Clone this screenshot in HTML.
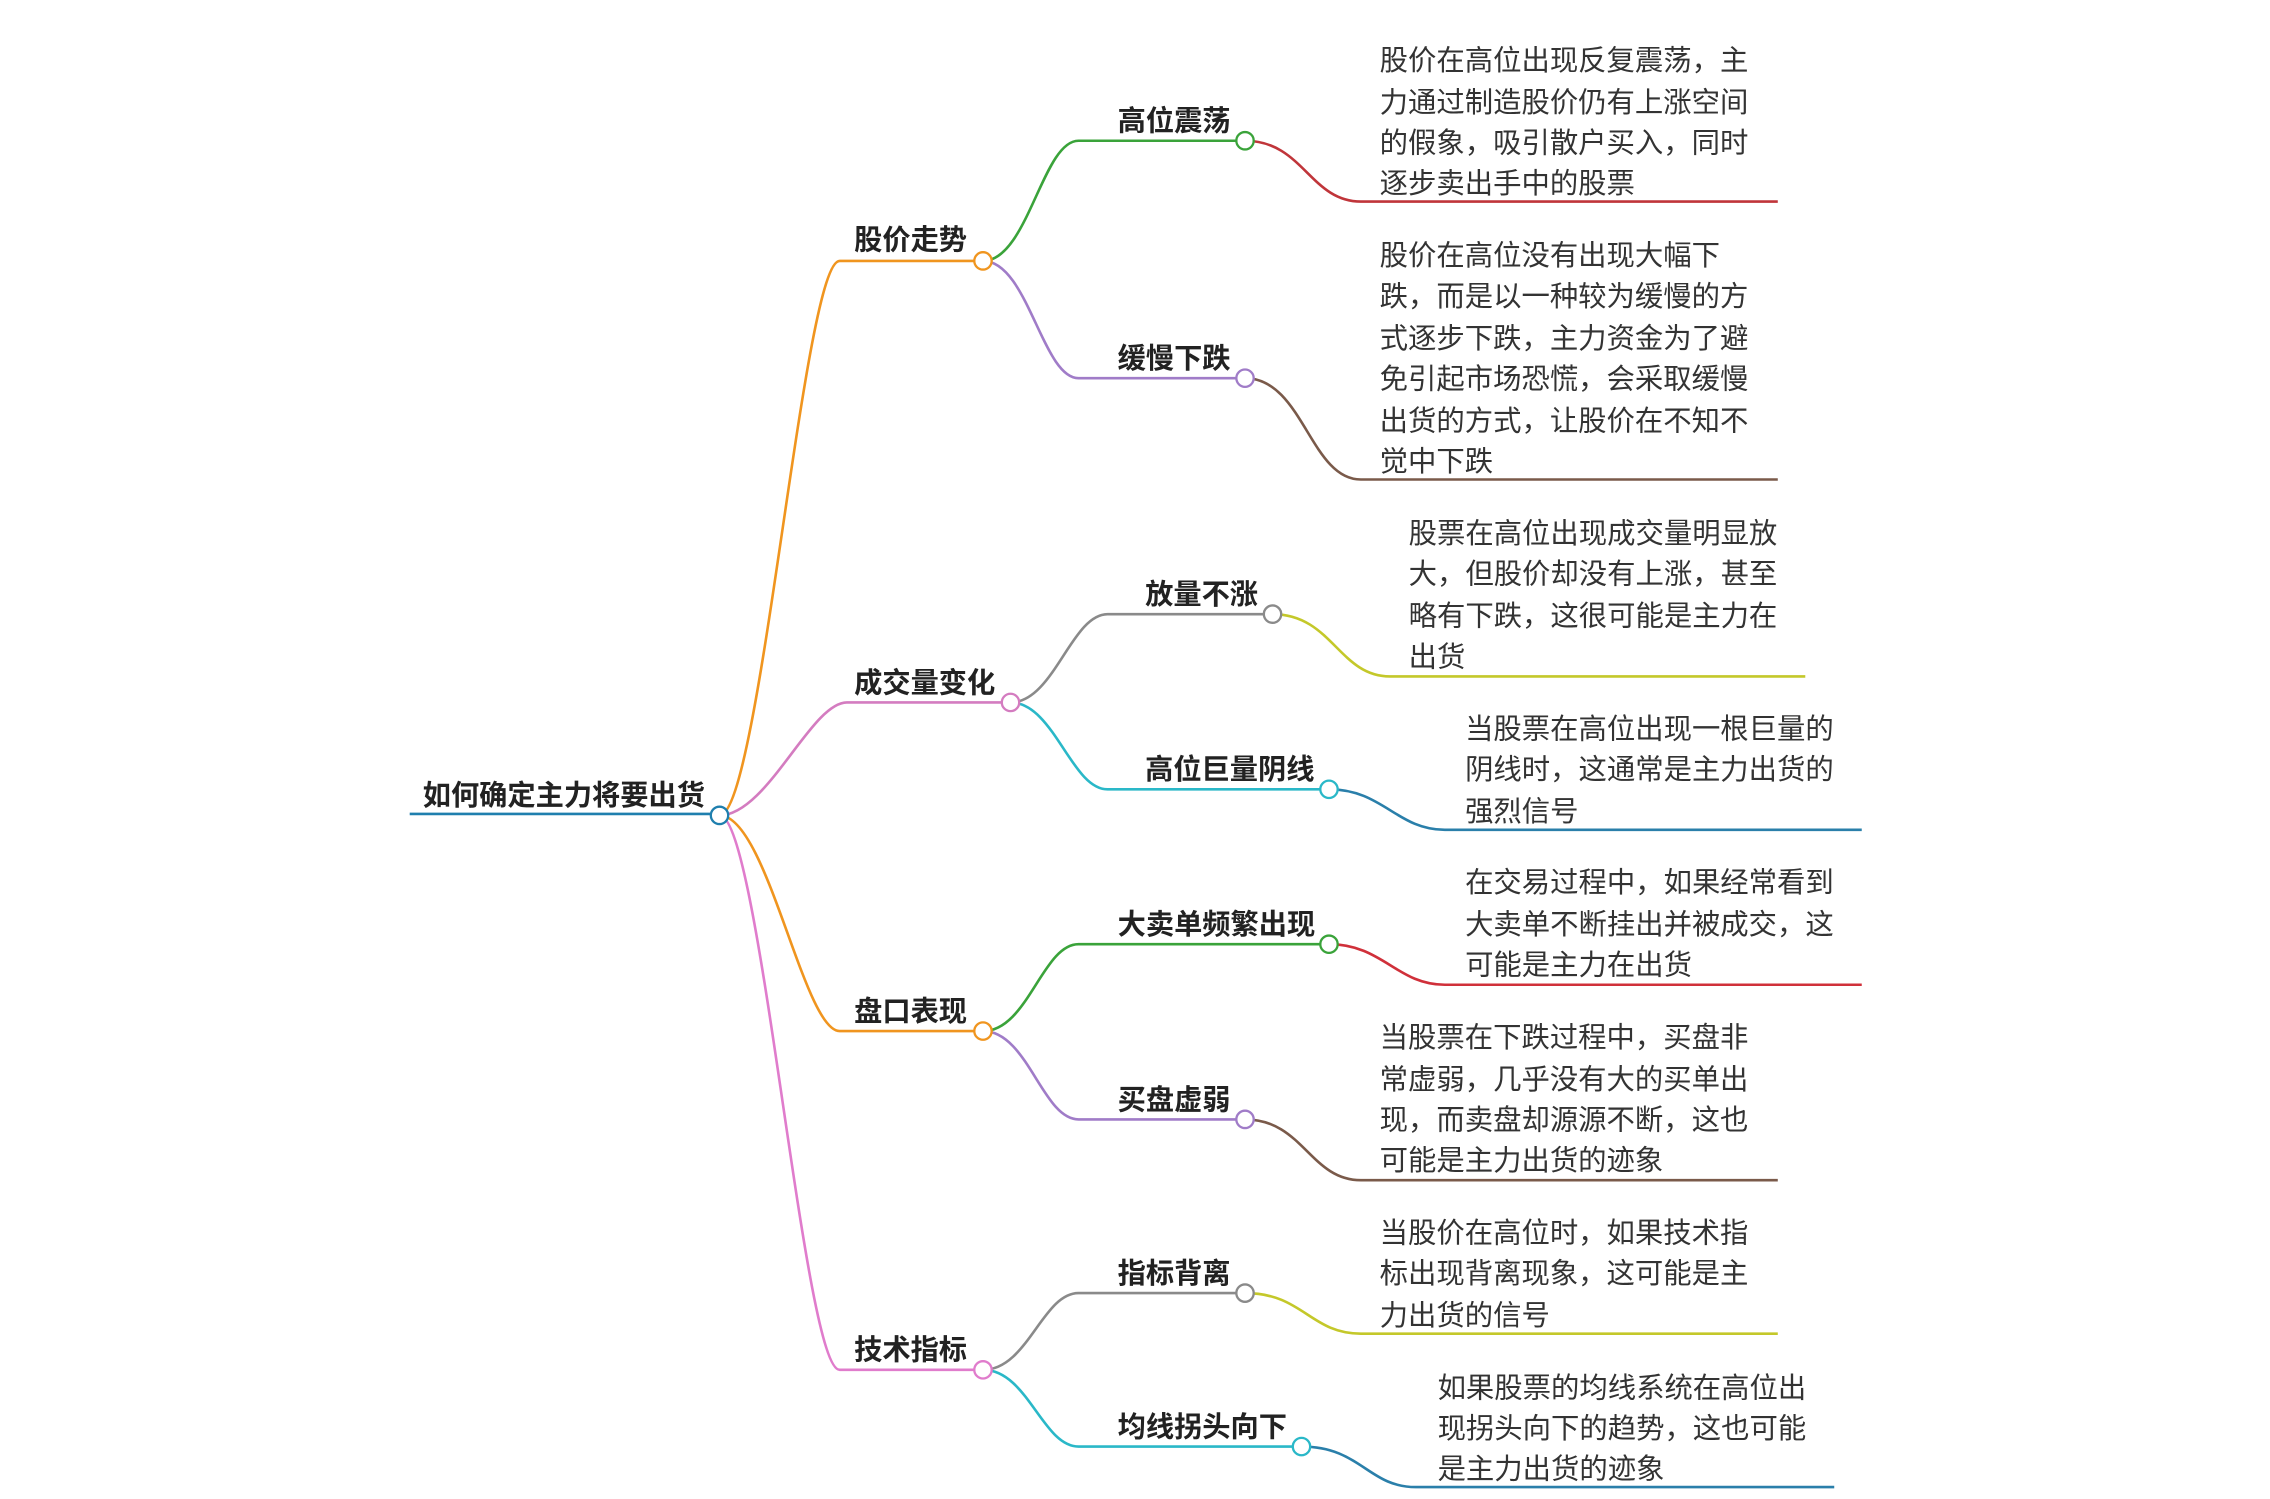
<!DOCTYPE html>
<html><head><meta charset="utf-8"><style>
html,body{margin:0;padding:0;background:#fff;}
svg{display:block;}
text{font-family:"Liberation Sans","Noto Sans CJK SC",sans-serif;}
.l{font-size:19.5px;font-weight:bold;fill:#222;}
.d{font-size:19.6px;fill:#333;}
</style></head><body>
<svg width="2270" height="1499" viewBox="0 0 1568 1035" xmlns="http://www.w3.org/2000/svg">
<g fill="none" stroke-width="1.8">
<path d="M283 562 L497 562" stroke="#1f7fae"/>
<path d="M497 563 C525 563 555 180 580 180 L679 180" stroke="#f0951f"/>
<path d="M497 563 C530 563 560 485 585 485 L698 485" stroke="#d47cc0"/>
<path d="M497 563 C530 563 555 712 580 712 L679 712" stroke="#f0951f"/>
<path d="M497 563 C525 563 555 946 580 946 L679 946" stroke="#e07ccc"/>
<path d="M679 180 C710 180 720 97 745 97 L860 97" stroke="#3aa33a"/>
<path d="M679 180 C710 180 720 261 745 261 L860 261" stroke="#a07cc8"/>
<path d="M698 485 C728 485 740 424 765 424 L879 424" stroke="#8a8a8a"/>
<path d="M698 485 C728 485 740 545 765 545 L918 545" stroke="#2ab8c8"/>
<path d="M679 712 C710 712 720 652 745 652 L918 652" stroke="#3aa33a"/>
<path d="M679 712 C710 712 720 773 745 773 L860 773" stroke="#a07cc8"/>
<path d="M679 946 C710 946 720 893 745 893 L860 893" stroke="#8a8a8a"/>
<path d="M679 946 C710 946 720 999 745 999 L899 999" stroke="#2ab8c8"/>
<path d="M860 97 C900 97 905 139 940 139 L1228 139" stroke="#c0353a"/>
<path d="M860 261 C900 261 905 331 940 331 L1228 331" stroke="#7a5a4a"/>
<path d="M879 424 C920 424 925 467 960 467 L1247 467" stroke="#c4c82a"/>
<path d="M918 545 C955 545 965 573 998 573 L1286 573" stroke="#2a7faa"/>
<path d="M918 652 C955 652 965 680 998 680 L1286 680" stroke="#d0303a"/>
<path d="M860 773 C900 773 905 815 940 815 L1228 815" stroke="#7a5a4a"/>
<path d="M860 893 C900 893 905 921 940 921 L1228 921" stroke="#c4c82a"/>
<path d="M899 999 C940 999 945 1027 978 1027 L1267 1027" stroke="#2a7faa"/>
</g>
<g fill="#fff" stroke-width="1.6">
<circle cx="497" cy="563" r="6" stroke="#1f7fae"/>
<circle cx="679" cy="180" r="6" stroke="#f0951f"/>
<circle cx="698" cy="485" r="6" stroke="#d47cc0"/>
<circle cx="679" cy="712" r="6" stroke="#f0951f"/>
<circle cx="679" cy="946" r="6" stroke="#e07ccc"/>
<circle cx="860" cy="97" r="6" stroke="#3aa33a"/>
<circle cx="860" cy="261" r="6" stroke="#a07cc8"/>
<circle cx="879" cy="424" r="6" stroke="#8a8a8a"/>
<circle cx="918" cy="545" r="6" stroke="#2ab8c8"/>
<circle cx="918" cy="652" r="6" stroke="#3aa33a"/>
<circle cx="860" cy="773" r="6" stroke="#a07cc8"/>
<circle cx="860" cy="893" r="6" stroke="#8a8a8a"/>
<circle cx="899" cy="999" r="6" stroke="#2ab8c8"/>
</g>
<text class="l" x="292" y="556">如何确定主力将要出货</text>
<text class="l" x="590" y="172">股价走势</text>
<text class="l" x="590" y="478">成交量变化</text>
<text class="l" x="590" y="705">盘口表现</text>
<text class="l" x="590" y="939">技术指标</text>
<text class="l" x="772" y="90">高位震荡</text>
<text class="l" x="772" y="254">缓慢下跌</text>
<text class="l" x="791" y="417">放量不涨</text>
<text class="l" x="791" y="538">高位巨量阴线</text>
<text class="l" x="772" y="645">大卖单频繁出现</text>
<text class="l" x="772" y="766">买盘虚弱</text>
<text class="l" x="772" y="886">指标背离</text>
<text class="l" x="772" y="992">均线拐头向下</text>
<text class="d" x="953" y="48">股价在高位出现反复震荡，主</text>
<text class="d" x="953" y="77">力通过制造股价仍有上涨空间</text>
<text class="d" x="953" y="105">的假象，吸引散户买入，同时</text>
<text class="d" x="953" y="133">逐步卖出手中的股票</text>
<text class="d" x="953" y="183">股价在高位没有出现大幅下</text>
<text class="d" x="953" y="211">跌，而是以一种较为缓慢的方</text>
<text class="d" x="953" y="240">式逐步下跌，主力资金为了避</text>
<text class="d" x="953" y="268">免引起市场恐慌，会采取缓慢</text>
<text class="d" x="953" y="297">出货的方式，让股价在不知不</text>
<text class="d" x="953" y="325">觉中下跌</text>
<text class="d" x="973" y="375">股票在高位出现成交量明显放</text>
<text class="d" x="973" y="403">大，但股价却没有上涨，甚至</text>
<text class="d" x="973" y="432">略有下跌，这很可能是主力在</text>
<text class="d" x="973" y="460">出货</text>
<text class="d" x="1012" y="510">当股票在高位出现一根巨量的</text>
<text class="d" x="1012" y="538">阴线时，这通常是主力出货的</text>
<text class="d" x="1012" y="567">强烈信号</text>
<text class="d" x="1012" y="616">在交易过程中，如果经常看到</text>
<text class="d" x="1012" y="645">大卖单不断挂出并被成交，这</text>
<text class="d" x="1012" y="673">可能是主力在出货</text>
<text class="d" x="953" y="723">当股票在下跌过程中，买盘非</text>
<text class="d" x="953" y="752">常虚弱，几乎没有大的买单出</text>
<text class="d" x="953" y="780">现，而卖盘却源源不断，这也</text>
<text class="d" x="953" y="808">可能是主力出货的迹象</text>
<text class="d" x="953" y="858">当股价在高位时，如果技术指</text>
<text class="d" x="953" y="886">标出现背离现象，这可能是主</text>
<text class="d" x="953" y="915">力出货的信号</text>
<text class="d" x="993" y="965">如果股票的均线系统在高位出</text>
<text class="d" x="993" y="993">现拐头向下的趋势，这也可能</text>
<text class="d" x="993" y="1021">是主力出货的迹象</text>
</svg>
</body></html>
